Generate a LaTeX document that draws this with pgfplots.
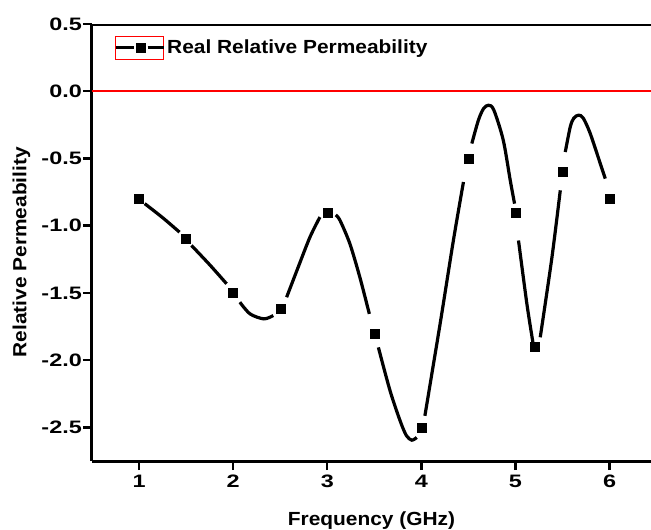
\documentclass[border=0pt]{standalone}
\usepackage{fontspec}
\setmainfont{Liberation Sans}[FakeStretch=1.1]
\newfontfamily\tickfont{Liberation Sans}[FakeStretch=1.3]
\usepackage{pgfplots}
\pgfplotsset{compat=1.18}

\begin{document}
\begin{tikzpicture}
\begin{axis}[
  name=ax,
  scale only axis,
  width=559pt, height=437pt,
  xmin=0.5, xmax=6.44, ymin=-2.75, ymax=0.5,
  axis x line*=bottom, axis y line*=left,
  axis line style={line width=3pt, -},
  tick style={line width=2.4pt, black},
  tick align=outside,
  major tick length=9pt,
  xtick={1,2,3,4,5,6},
  ytick={-2.5,-2,-1.5,-1,-0.5,0,0.5},
  font=\fontsize{19}{22}\selectfont\bfseries,
  /pgf/number format/assume math mode=true,
  ticklabel style={font=\fontsize{18}{21}\selectfont\tickfont\bfseries},
  yticklabel style={/pgf/number format/fixed, /pgf/number format/fixed zerofill,
    /pgf/number format/precision=1, inner sep=1pt},
  xticklabel style={inner sep=2pt, yshift=-3pt},
  xlabel={Frequency (GHz)},
  ylabel={Relative Permeability},
  xlabel style={at={(axis description cs:0.5,-0.1465)}, anchor=base},
  ylabel style={at={(axis description cs:-0.1172,0.478)}, anchor=base},
  legend style={draw=none, fill=none, at={(0.0394,0.946)}, anchor=west,
    inner sep=0pt, font=\fontsize{19}{22}\selectfont\bfseries},
  legend cell align=left,
  seg/.style={black, line width=3.2pt, smooth, tension=0.5, forget plot},
]
% red reference line at zero
\addplot[red, line width=1.8pt, forget plot] coordinates {(0.5,0) (6.44,0)};

% curve pieces (broken round each symbol)
\addplot[seg] coordinates {(1.06,-0.836) (1.25,-0.94) (1.43,-1.048)};
\addplot[seg] coordinates {(1.557,-1.147) (1.75,-1.29) (1.93,-1.432)};
\addplot[seg] coordinates {(2.071,-1.569) (2.18,-1.656) (2.327,-1.693) (2.426,-1.668)};
\addplot[seg] coordinates {(2.568,-1.532) (2.69,-1.31) (2.816,-1.085) (2.922,-0.936)};
\addplot[seg] coordinates {(3.09,-0.92) (3.135,-0.96) (3.24,-1.134) (3.346,-1.383) (3.447,-1.656)};
\addplot[seg] coordinates {(3.543,-1.905) (3.667,-2.227) (3.774,-2.451) (3.84,-2.56) (3.898,-2.595) (3.951,-2.575)};
\addplot[seg] coordinates {(4.037,-2.414) (4.199,-1.730) (4.340,-1.110) (4.447,-0.675)};
\addplot[seg] coordinates {(4.536,-0.389) (4.606,-0.215) (4.66,-0.13) (4.713,-0.104) (4.77,-0.14)
  (4.87,-0.364) (4.944,-0.662) (4.99,-0.836)};
\addplot[seg] coordinates {(5.032,-1.11) (5.121,-1.581) (5.185,-1.867)};
\addplot[seg] coordinates {(5.263,-1.83) (5.387,-1.237) (5.476,-0.737)};
\addplot[seg] coordinates {(5.529,-0.452) (5.582,-0.265) (5.62,-0.20) (5.670,-0.178) (5.72,-0.20)
  (5.794,-0.314) (5.901,-0.538) (5.954,-0.650)};

% symbols
\addplot[only marks, mark=square*, mark size=4.5pt, black, forget plot] coordinates {
 (1,-0.80) (1.5,-1.10) (2,-1.50) (2.5,-1.62) (3,-0.90) (3.5,-1.80)
 (4,-2.50) (4.5,-0.50) (5,-0.90) (5.2,-1.90) (5.5,-0.60) (6,-0.80)};

\addlegendimage{legend image code/.code={
  \draw[red, line width=0.9pt] (0pt,-11.5pt) rectangle (48pt,11.5pt);
  \draw[black, line width=3pt] (0pt,0pt) -- (18pt,0pt);
  \draw[black, line width=3pt] (32pt,0pt) -- (48pt,0pt);
  \fill[black] (20pt,-4.5pt) rectangle (29pt,4.5pt);
}}
\addlegendentry{Real Relative Permeability}

% top frame line
\draw[line width=3pt] (rel axis cs:0,1) -- (rel axis cs:1,1);
\end{axis}
\pgfresetboundingbox
\path ([xshift=-92pt,yshift=-68pt]ax.south west) rectangle ([yshift=24pt]ax.north east);
\end{tikzpicture}
\end{document}
